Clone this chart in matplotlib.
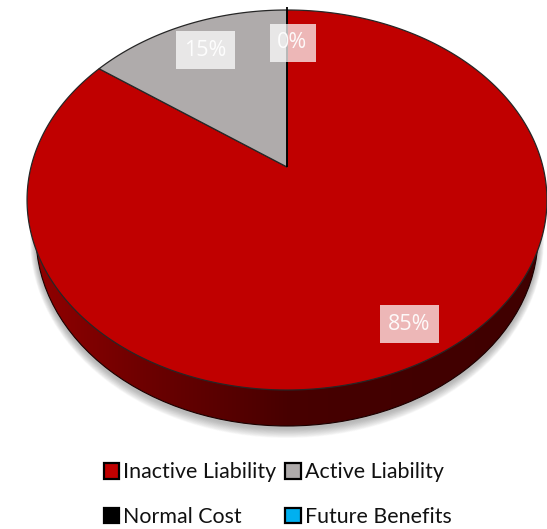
import numpy as np
import matplotlib
matplotlib.use("Agg")
import matplotlib.pyplot as plt
from matplotlib.patches import Polygon, Patch, Ellipse

categories = ["Inactive Liability", "Active Liability", "Normal Cost", "Future Benefits"]
values = [85, 15, 0, 0]
colors = ["#C00000", "#AFABAB", "#000000", "#00B0F0"]
label_text = ["85%", "15%", "0%"]

plt.rcParams["font.family"] = ["Lato", "DejaVu Sans"]

fig = plt.figure(figsize=(5.47, 5.29), dpi=100)
ax = fig.add_axes([0, 0, 1, 1])
ax.set_xlim(0, 547)
ax.set_ylim(529, 0)
ax.axis("off")

CX, APEX_Y = 287.0, 167.0
D, A, C = 256.0, -155.26, 0.1737


def project(frac, radius=1.0):
    """Tilted-disc projection; frac is the clockwise share of a turn from 12 o'clock."""
    t = 2 * np.pi * np.asarray(frac, dtype=float)
    u, v = radius * np.sin(t), radius * np.cos(t)
    w = 1 + C * v
    return CX + D * u / w, (A * v + APEX_Y) / w


# soft shadow under the disc: stacked translucent ellipses, widest first
for i in range(24):
    grow = (24 - i) * 0.42
    ax.add_patch(Ellipse((287, 239), 2 * (251 + grow * 0.6), 2 * (189 + grow),
                         fc="#707070", ec="none", alpha=0.022, zorder=1))

# side wall with a left-to-right shading
side = Ellipse((287, 236), 2 * 251, 2 * 190, fc="none", ec="#1a0000", lw=0.8, zorder=3)
ax.add_patch(side)
grad_pos = [0.0, 0.25, 0.5, 0.75, 1.0]
grad_r = [0x90, 0x68, 0x48, 0x42, 0x40]
ramp = np.interp(np.linspace(0, 1, 256), grad_pos, grad_r) / 255.0
rgb = np.zeros((1, 256, 3))
rgb[0, :, 0] = ramp
im = ax.imshow(rgb, extent=(36, 538, 440, 200), aspect="auto", zorder=2)
im.set_clip_path(Ellipse((287, 236), 2 * 251, 2 * 190, transform=ax.transData))
ax.set_xlim(0, 547)
ax.set_ylim(529, 0)

# top face, one polygon per category
total = sum(values)
start = 0.0
for name, val, col in zip(categories, values, colors):
    share = val / total
    if share > 0:
        f = np.linspace(start, start + share, 300)
        x, y = project(f)
        pts = np.column_stack([np.r_[CX, x], np.r_[APEX_Y, y]])
        ax.add_patch(Polygon(pts, closed=True, fc=col, ec="#262626", lw=0.9, zorder=4))
    start += share

# zero-share slices collapse to a line at 12 o'clock that pokes past the rim
sx, sy = project(0.0, 1.025)
ax.plot([CX, sx], [APEX_Y, sy], color="#000000", lw=1.3, zorder=5, solid_capstyle="butt")

# data labels on translucent white boxes
for txt, (lx, ly) in zip(label_text, [(409, 324), (205, 50), (292.5, 43)]):
    ax.text(lx, ly, txt, color="white", alpha=0.92, ha="center", va="center", fontsize=15.5,
            family=["Open Sans", "DejaVu Sans"], zorder=7)
boxes = [(380, 305, 59, 38), (176, 31, 59, 38), (270, 24, 46, 38)]
for bx, by, bw, bh in boxes:
    ax.add_patch(plt.Rectangle((bx, by), bw, bh, fc="white", ec="none", alpha=0.72, zorder=6))

handles = [Patch(facecolor=c, edgecolor="black", linewidth=1.6, label=n) for c, n in zip(colors, categories)]
# column-first fill gives Inactive/Normal on the left and Active/Future on the right
ax.legend(handles=[handles[0], handles[2], handles[1], handles[3]], ncol=2,
          loc="upper left", bbox_to_anchor=(103.5 / 547, 1 - 462.5 / 529), frameon=False,
          fontsize=15.4, handlelength=0.72, handleheight=0.72, handletextpad=0.2,
          columnspacing=0.42, labelspacing=1.14, borderpad=0, borderaxespad=0, labelcolor="#111111")

fig.savefig("out.png", dpi=100)
